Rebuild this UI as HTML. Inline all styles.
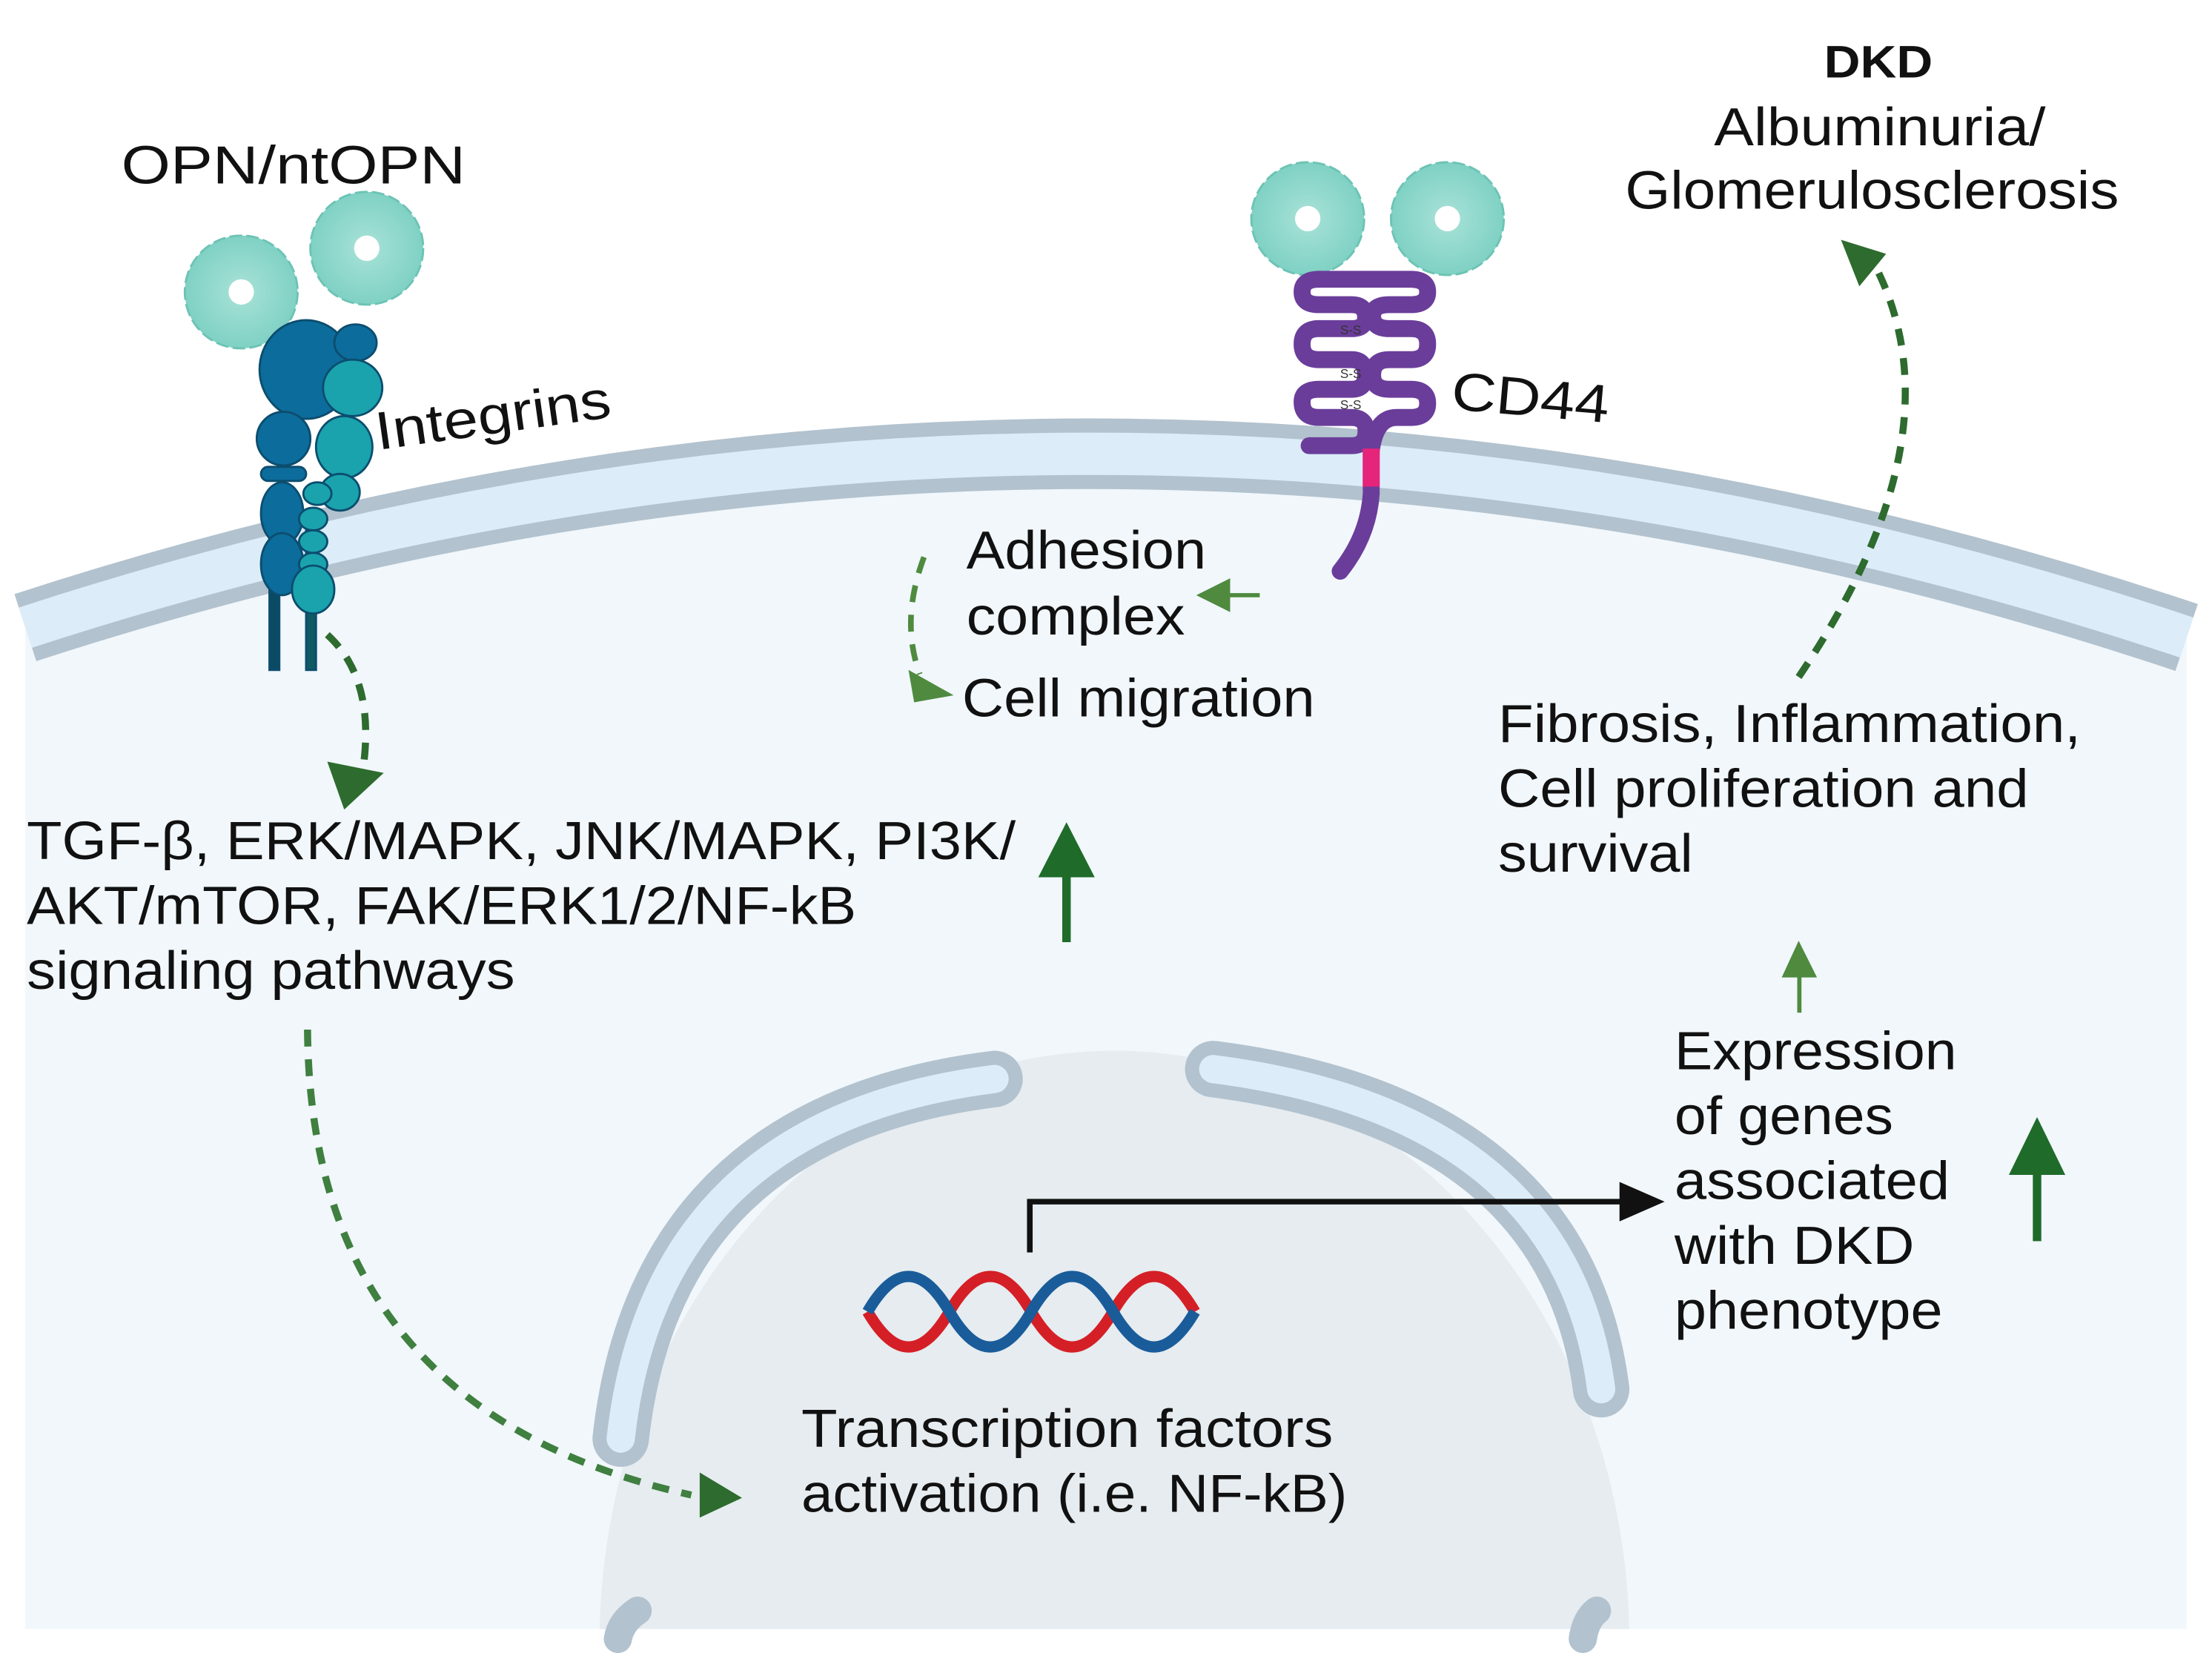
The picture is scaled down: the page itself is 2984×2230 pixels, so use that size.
<!DOCTYPE html>
<html><head><meta charset="utf-8"><style>html,body{margin:0;padding:0;background:#fff;overflow:hidden;width:2984px;height:2230px}svg{display:block}</style></head>
<body>
<svg width="2984" height="2230" viewBox="0 0 1568 1172" preserveAspectRatio="none" xmlns="http://www.w3.org/2000/svg" font-family="Liberation Sans, sans-serif">
<defs>
<radialGradient id="opn" cx="50%" cy="50%" r="50%"><stop offset="0" stop-color="#a9e2d8"/><stop offset="1" stop-color="#7fd1c4"/></radialGradient>
<clipPath id="cl"><rect width="1568" height="1172"/></clipPath>
</defs>
<g clip-path="url(#cl)">
<rect width="1568" height="1172" fill="#fff"/>
<path d="M18,445 Q784,195 1550,452 L1550,1155 L18,1155 Z" fill="#f1f7fb"/>
<path d="M18,445 Q784,195 1550,452" fill="none" stroke="#b2c2ce" stroke-width="50"/>
<path d="M18,445 Q784,195 1550,452" fill="none" stroke="#dcedf9" stroke-width="30"/>
<ellipse cx="790" cy="1165" rx="365" ry="420" fill="#e6ecf0"/>
<rect x="0" y="1155" width="1568" height="17" fill="#fff"/>
<g fill="none" stroke-linecap="round">
<path d="M440,1020 Q465,795 705,765" stroke="#b2c2ce" stroke-width="40"/>
<path d="M440,1020 Q465,795 705,765" stroke="#dcedf9" stroke-width="20"/>
<path d="M860,758 Q1110,790 1135,985" stroke="#b2c2ce" stroke-width="40"/>
<path d="M860,758 Q1110,790 1135,985" stroke="#dcedf9" stroke-width="20"/>
<path d="M438,1162 Q440,1150 452,1142" stroke="#b2c2ce" stroke-width="20"/>
<path d="M1122,1162 Q1124,1148 1132,1142" stroke="#b2c2ce" stroke-width="20"/>
</g>
<g stroke="#6cc3b4" stroke-width="1.5" fill="url(#opn)">
<circle cx="171" cy="207" r="40" stroke-dasharray="9 3"/>
<circle cx="260" cy="176" r="40" stroke-dasharray="9 3"/>
<circle cx="927" cy="155" r="40" stroke-dasharray="9 3"/>
<circle cx="1026" cy="155" r="40" stroke-dasharray="9 3"/>
</g>
<g fill="#fff"><circle cx="171" cy="207" r="9"/><circle cx="260" cy="176" r="9"/><circle cx="927" cy="155" r="9"/><circle cx="1026" cy="155" r="9"/></g>
<g stroke="#0c4d6e" stroke-width="1.5">
<rect x="191" y="365" width="7" height="110" fill="#0b4a63"/>
<rect x="217" y="365" width="7" height="110" fill="#0f5a63"/>
<ellipse cx="217" cy="262" rx="33" ry="35" fill="#0c6c9c"/>
<ellipse cx="252" cy="243" rx="15" ry="13" fill="#0c6c9c"/>
<ellipse cx="250" cy="275" rx="21" ry="20" fill="#1aa3ad"/>
<ellipse cx="201" cy="311" rx="19" ry="19" fill="#0c6c9c"/>
<rect x="185" y="331" width="32" height="10" rx="5" fill="#0c6c9c"/>
<ellipse cx="200" cy="364" rx="15" ry="22" fill="#0c6c9c"/>
<ellipse cx="200" cy="400" rx="15" ry="22" fill="#0c6c9c"/>
<ellipse cx="244" cy="317" rx="20" ry="22" fill="#1aa3ad"/>
<ellipse cx="241" cy="349" rx="14" ry="13" fill="#1aa3ad"/>
<ellipse cx="225" cy="350" rx="10" ry="8" fill="#1aa3ad"/>
<ellipse cx="222" cy="368" rx="10" ry="8" fill="#1aa3ad"/>
<ellipse cx="222" cy="384" rx="10" ry="8" fill="#1aa3ad"/>
<ellipse cx="222" cy="400" rx="10" ry="8" fill="#1aa3ad"/>
<ellipse cx="222" cy="418" rx="15" ry="17" fill="#1aa3ad"/>
</g>
<g fill="none" stroke="#6a3d9a" stroke-width="12" stroke-linecap="round">
<path d="M950,405 Q970,380 972,350 L972,320"/>
<path d="M928,316 L958,316 Q970,316 968,302 Q966,296 958,296 L935,296 Q923,296 923,285 Q923,276 935,276 L958,276 Q968,276 968,266 Q968,255 958,255 L935,255 Q923,255 923,244 Q923,233 935,233 L958,233 Q968,233 968,225 Q968,216 958,216 L935,216 Q923,216 923,207 Q923,198 935,198"/>
<path d="M972,320 Q975,296 990,296 L1000,296 Q1012,296 1012,286 Q1012,276 1000,276 L985,276 Q973,276 973,266 Q973,255 985,255 L1000,255 Q1012,255 1012,244 Q1012,233 1000,233 L985,233 Q973,233 973,224 Q973,216 985,216 L1000,216 Q1012,216 1012,207 Q1012,198 1000,198 L935,198"/>
</g>
<path d="M972,318 L972,345" stroke="#e5247a" stroke-width="12"/>
<g font-size="9" fill="#333"><text x="950" y="237">S-S</text><text x="950" y="268">S-S</text><text x="950" y="290">S-S</text></g>
<g fill="none" stroke="#2e6b2e" stroke-width="5" stroke-dasharray="12 9">
<path d="M232,450 Q265,480 258,540"/>
<path d="M218,730 Q220,1000 490,1060" stroke="#3f7f3f"/>
<path d="M655,395 Q638,440 652,478" stroke="#4f8a3f" stroke-width="4"/>
<path d="M1275,480 Q1390,310 1330,190"/>
</g>
<g fill="#2e6b2e">
<polygon points="232,540 272,548 244,574"/>
<polygon points="496,1044 526,1062 496,1076"/>
<polygon points="644,475 676,493 648,498" fill="#4f8a3f"/>
<polygon points="1305,170 1337,180 1318,203"/>
<polygon points="848,422 872,410 872,434" fill="#4f8a3f"/>
</g>
<line x1="868" y1="422" x2="893" y2="422" stroke="#4f8a3f" stroke-width="3"/>
<g fill="#1f6b2a">
<rect x="753" y="620" width="6" height="48"/><polygon points="736,622 776,622 756,583"/>
<rect x="1441" y="830" width="6" height="50"/><polygon points="1424,833 1464,833 1444,792"/>
<rect x="1274" y="690" width="3" height="28" fill="#4f8a3f"/><polygon points="1263,693 1288,693 1275,667" fill="#4f8a3f"/>
</g>
<g fill="none" stroke-width="8">
<path d="M615,930 Q644,980 673,930 T731,930 T789,930 T847,930" stroke="#d51f26"/>
<path d="M615,930 Q644,880 673,930 T731,930 T789,930 T847,930" stroke="#1a5c9a"/>
</g>
<path d="M730,888 L730,852 L1150,852" fill="none" stroke="#111" stroke-width="4"/>
<polygon points="1148,838 1180,852 1148,866" fill="#111"/>
<g font-size="38" fill="#111" lengthAdjust="spacingAndGlyphs">
<text x="86" y="130" textLength="244" lengthAdjust="spacingAndGlyphs">OPN/ntOPN</text>
<text x="268" y="319" transform="rotate(-8 268 319)" textLength="168" lengthAdjust="spacingAndGlyphs">Integrins</text>
<text x="1028" y="290" transform="rotate(5 1028 290)" textLength="112" lengthAdjust="spacingAndGlyphs">CD44</text>
<text x="1293" y="55" font-weight="bold" font-size="32" textLength="77" lengthAdjust="spacingAndGlyphs">DKD</text>
<text x="1215" y="103" textLength="235" lengthAdjust="spacingAndGlyphs">Albuminuria/</text>
<text x="1152" y="148" textLength="350" lengthAdjust="spacingAndGlyphs">Glomerulosclerosis</text>
<text x="685" y="403" textLength="170" lengthAdjust="spacingAndGlyphs">Adhesion</text>
<text x="685" y="450" textLength="155" lengthAdjust="spacingAndGlyphs">complex</text>
<text x="682" y="508" textLength="250" lengthAdjust="spacingAndGlyphs">Cell migration</text>
<text x="1062" y="526" textLength="413" lengthAdjust="spacingAndGlyphs">Fibrosis, Inflammation,</text>
<text x="1062" y="572" textLength="376" lengthAdjust="spacingAndGlyphs">Cell proliferation and</text>
<text x="1062" y="618" textLength="138" lengthAdjust="spacingAndGlyphs">survival</text>
<text x="19" y="609" textLength="701" lengthAdjust="spacingAndGlyphs">TGF-β, ERK/MAPK, JNK/MAPK, PI3K/</text>
<text x="19" y="655" textLength="588" lengthAdjust="spacingAndGlyphs">AKT/mTOR, FAK/ERK1/2/NF-kB</text>
<text x="19" y="701" textLength="346" lengthAdjust="spacingAndGlyphs">signaling pathways</text>
<text x="1187" y="758" textLength="200" lengthAdjust="spacingAndGlyphs">Expression</text>
<text x="1187" y="804" textLength="155" lengthAdjust="spacingAndGlyphs">of genes</text>
<text x="1187" y="850" textLength="195" lengthAdjust="spacingAndGlyphs">associated</text>
<text x="1187" y="896" textLength="170" lengthAdjust="spacingAndGlyphs">with DKD</text>
<text x="1187" y="942" textLength="190" lengthAdjust="spacingAndGlyphs">phenotype</text>
<text x="568" y="1026" textLength="377" lengthAdjust="spacingAndGlyphs">Transcription factors</text>
<text x="568" y="1072" textLength="387" lengthAdjust="spacingAndGlyphs">activation (i.e. NF-kB)</text>
</g>
</g>
</svg>
</body></html>
